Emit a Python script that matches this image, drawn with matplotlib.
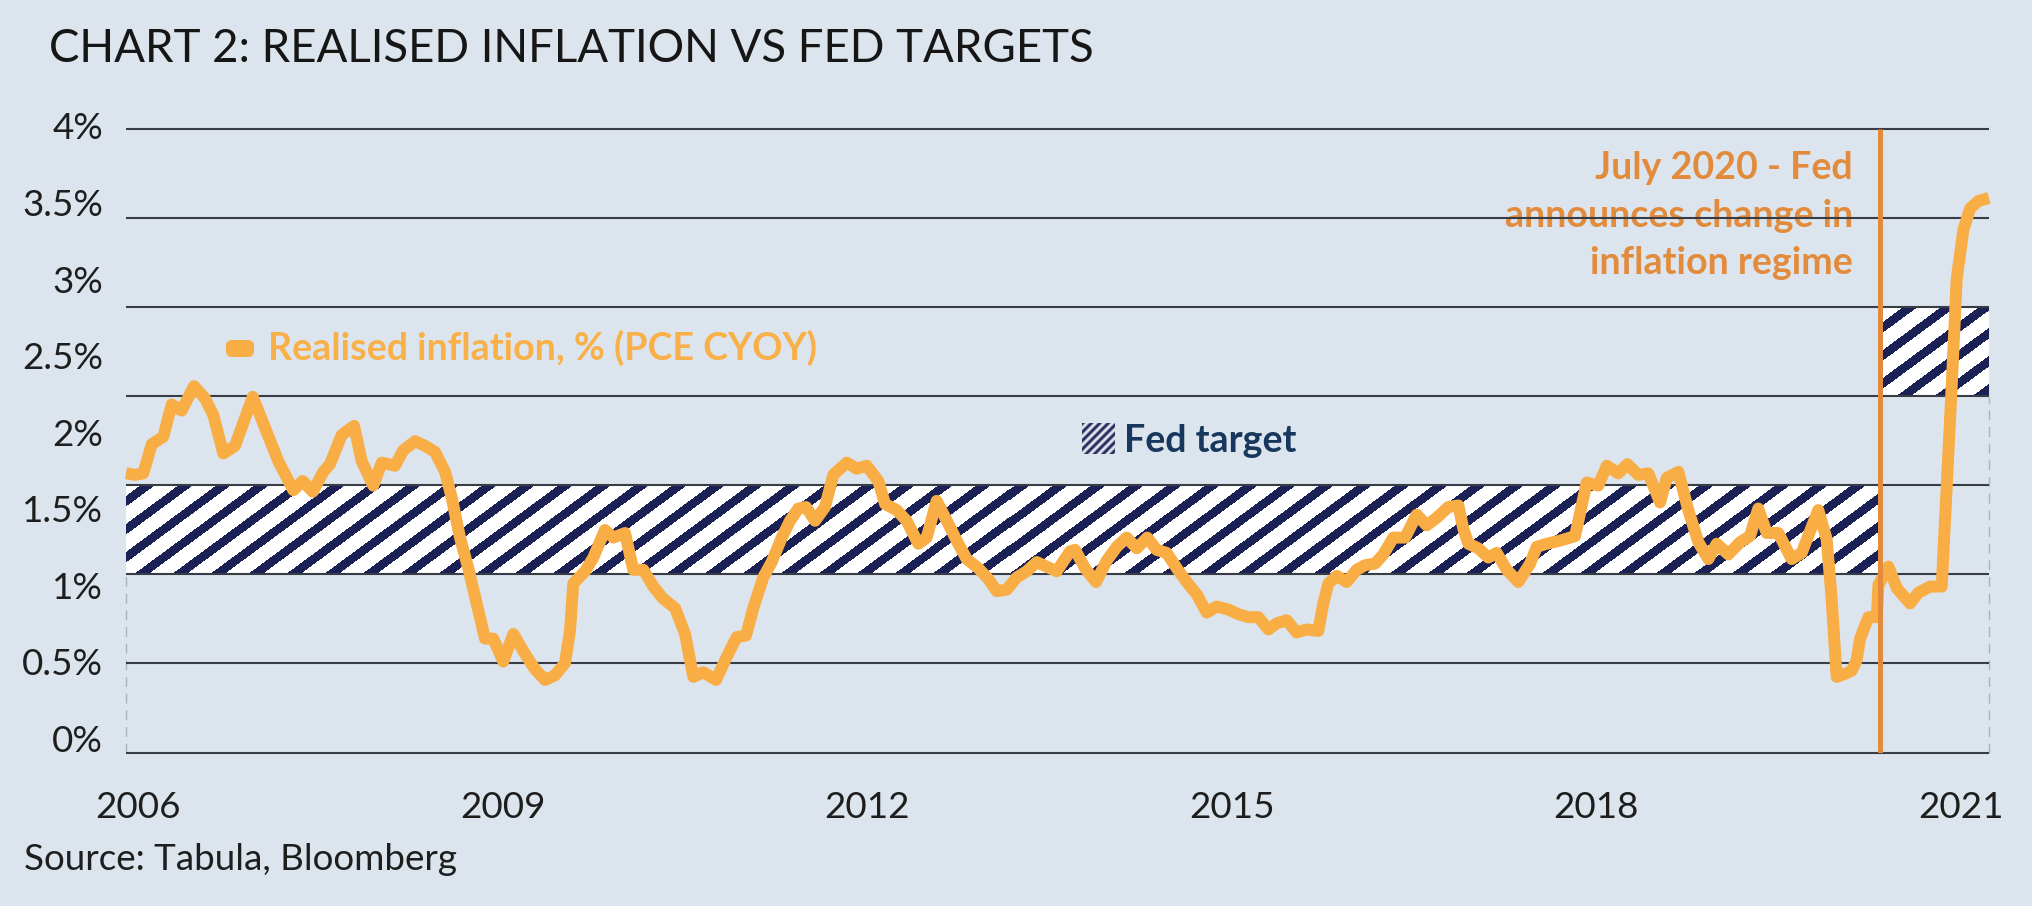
import numpy as np
import matplotlib
matplotlib.use("Agg")
import matplotlib.pyplot as plt
from matplotlib import font_manager
from matplotlib.patches import FancyBboxPatch
from matplotlib.transforms import IdentityTransform

# ---------------- data ----------------
dates = [
    2006.000, 2006.074, 2006.142, 2006.212, 2006.307, 2006.376, 2006.458, 2006.560, 2006.650, 2006.719,
    2006.801, 2006.897, 2007.043, 2007.158, 2007.253, 2007.377, 2007.454, 2007.537, 2007.624, 2007.679,
    2007.775, 2007.877, 2007.940, 2008.035, 2008.105, 2008.214, 2008.282, 2008.379, 2008.461, 2008.543,
    2008.626, 2008.681, 2008.749, 2008.817, 2008.886, 2008.955, 2009.023, 2009.105, 2009.188, 2009.284,
    2009.366, 2009.449, 2009.531, 2009.613, 2009.654, 2009.681, 2009.778, 2009.846, 2009.942, 2010.011,
    2010.107, 2010.175, 2010.258, 2010.340, 2010.422, 2010.519, 2010.601, 2010.669, 2010.751, 2010.856,
    2010.944, 2011.026, 2011.103, 2011.163, 2011.245, 2011.314, 2011.397, 2011.465, 2011.533, 2011.597,
    2011.671, 2011.753, 2011.821, 2011.932, 2012.014, 2012.096, 2012.192, 2012.247, 2012.343, 2012.425,
    2012.521, 2012.590, 2012.672, 2012.768, 2012.850, 2012.919, 2013.015, 2013.097, 2013.166, 2013.249,
    2013.331, 2013.413, 2013.496, 2013.578, 2013.660, 2013.770, 2013.811, 2013.893, 2013.984, 2014.072,
    2014.154, 2014.236, 2014.319, 2014.405, 2014.483, 2014.565, 2014.648, 2014.730, 2014.812, 2014.895,
    2014.977, 2015.072, 2015.155, 2015.237, 2015.319, 2015.402, 2015.471, 2015.553, 2015.635, 2015.718,
    2015.813, 2015.854, 2015.896, 2015.965, 2016.047, 2016.129, 2016.198, 2016.280, 2016.348, 2016.430,
    2016.527, 2016.623, 2016.705, 2016.788, 2016.883, 2016.966, 2017.006, 2017.048, 2017.130, 2017.212,
    2017.281, 2017.364, 2017.459, 2017.556, 2017.611, 2017.693, 2017.802, 2017.926, 2018.022, 2018.117,
    2018.187, 2018.282, 2018.356, 2018.447, 2018.529, 2018.626, 2018.681, 2018.776, 2018.858, 2018.941,
    2019.023, 2019.092, 2019.188, 2019.284, 2019.366, 2019.434, 2019.504, 2019.599, 2019.709, 2019.791,
    2019.928, 2019.997, 2020.038, 2020.079, 2020.148, 2020.203, 2020.244, 2020.272, 2020.340, 2020.410,
    2020.423, 2020.505, 2020.574, 2020.683, 2020.752, 2020.848, 2020.944, 2020.985, 2021.026, 2021.067,
    2021.122, 2021.177, 2021.245, 2021.333,
]
pce_cyoy = [
    1.73, 1.72, 1.73, 1.92, 1.97, 2.18, 2.14, 2.30, 2.22, 2.11,
    1.86, 1.91, 2.23, 2.00, 1.81, 1.62, 1.68, 1.61, 1.74, 1.79,
    1.98, 2.04, 1.81, 1.65, 1.80, 1.78, 1.88, 1.94, 1.91, 1.87,
    1.74, 1.57, 1.31, 1.11, 0.88, 0.65, 0.65, 0.50, 0.68, 0.55,
    0.45, 0.38, 0.41, 0.49, 0.70, 1.01, 1.09, 1.18, 1.36, 1.31,
    1.34, 1.10, 1.10, 0.99, 0.91, 0.85, 0.68, 0.40, 0.43, 0.38,
    0.53, 0.66, 0.67, 0.85, 1.05, 1.15, 1.31, 1.42, 1.50, 1.51,
    1.42, 1.51, 1.72, 1.80, 1.76, 1.78, 1.68, 1.53, 1.49, 1.42,
    1.27, 1.31, 1.55, 1.40, 1.27, 1.17, 1.11, 1.04, 0.96, 0.97,
    1.05, 1.09, 1.15, 1.12, 1.09, 1.22, 1.23, 1.11, 1.02, 1.16,
    1.25, 1.31, 1.24, 1.31, 1.23, 1.21, 1.11, 1.02, 0.94, 0.82,
    0.86, 0.84, 0.81, 0.79, 0.79, 0.71, 0.75, 0.77, 0.69, 0.71,
    0.70, 0.88, 1.01, 1.06, 1.02, 1.10, 1.13, 1.14, 1.20, 1.31,
    1.31, 1.46, 1.39, 1.44, 1.51, 1.52, 1.37, 1.27, 1.24, 1.18,
    1.21, 1.10, 1.02, 1.14, 1.25, 1.27, 1.29, 1.32, 1.67, 1.65,
    1.78, 1.73, 1.79, 1.72, 1.73, 1.54, 1.70, 1.74, 1.49, 1.28,
    1.17, 1.27, 1.20, 1.28, 1.32, 1.50, 1.34, 1.34, 1.17, 1.21,
    1.49, 1.30, 0.91, 0.40, 0.42, 0.44, 0.51, 0.65, 0.79, 0.79,
    1.00, 1.12, 0.98, 0.88, 0.95, 0.99, 0.99, 1.65, 2.30, 3.00,
    3.32, 3.46, 3.51, 3.53,
]

# Fed target bands (hatched) before / after the regime change
band_start = [2006.0, 2020.44]
band_end = [2020.44, 2021.333]
band_low = [1.07, 2.23]
band_high = [1.65, 2.82]

event_date = 2020.44
event_text = ["July 2020 - Fed", "announces change in", "inflation regime"]

year_ticks = [2006, 2009, 2012, 2015, 2018, 2021]
pct_ticks = [0, 0.5, 1, 1.5, 2, 2.5, 3, 3.5, 4]
pct_labels = ["0%", "0.5%", "1%", "1.5%", "2%", "2.5%", "3%", "3.5%", "4%"]

title = "CHART 2: REALISED INFLATION VS FED TARGETS"
source = "Source: Tabula, Bloomberg"
series_label = "Realised inflation, % (PCE CYOY)"
band_label = "Fed target"

# ---------------- style ----------------
W, H, DPI = 2033, 906, 100
BG = "#dce5ed"
GRID = "#383d45"
LINE = "#f9ad45"
EVENT = "#e38b3d"
NAVY = np.array([27, 33, 85]) / 255.0
NAVY_TXT = "#18375c"
TEXT = "#1e1e1e"

ttf = font_manager.fontManager.ttflist
names = {f.name for f in ttf}
FONT = "Lato" if "Lato" in names else ("Roboto" if "Roboto" in names else "DejaVu Sans")
plt.rcParams["font.family"] = [FONT, "DejaVu Sans"]

fig = plt.figure(figsize=(W / DPI, H / DPI), dpi=DPI, facecolor=BG)


def fx(px):
    return px / W


def fy(py):
    return 1 - py / H


ax = fig.add_axes([fx(126), fy(752.5), (1989 - 126) / W, (752.5 - 126) / H])
ax.set_facecolor(BG)
for s in ax.spines.values():
    s.set_visible(False)
XLIM = (dates[0], dates[-1])
YLIM = (-0.0943, 3.979)
ax.set_xlim(*XLIM)
ax.set_ylim(*YLIM)

# horizontal rules (8 evenly spaced rules spanning the plot box)
rules = np.linspace(YLIM[0], YLIM[1], 8)
ax.hlines(rules, XLIM[0], XLIM[1], color=GRID, lw=1.5, zorder=2, clip_on=False)


def stripes(x0, y0, w, h, per_x=38.0, per_y=28.0, frac=0.38):
    cols = x0 + np.arange(w) + 0.5
    rows = y0 + np.arange(h) + 0.5
    X, Y = np.meshgrid(cols, rows)
    ph = ((X * per_y / per_x + Y) % per_y) / per_y
    img = np.ones((h, w, 3))
    img[ph < frac] = NAVY
    return img


for xs, xe, lo, hi in zip(band_start, band_end, band_low, band_high):
    (dx0, dy0), (dx1, dy1) = ax.transData.transform([(xs, lo), (xe, hi)])
    w = max(int(round(dx1 - dx0)), 1)
    h = max(int(round(dy1 - dy0)), 1)
    ax.imshow(stripes(dx0, H - dy1, w, h), extent=(xs, xe, lo, hi), aspect="auto",
              interpolation="nearest", origin="upper", zorder=1)
ax.set_xlim(*XLIM)
ax.set_ylim(*YLIM)

# faint dashed box sides
ax.vlines(XLIM[0], YLIM[0], band_low[0], color="#aab1b9", lw=1.0,
          linestyles=(0, (7, 5)), zorder=1.8, clip_on=False)
ax.vlines(XLIM[1], YLIM[0], band_low[1], color="#aab1b9", lw=1.0,
          linestyles=(0, (7, 5)), zorder=1.8, clip_on=False)

# realised inflation
ax.plot(dates, pce_cyoy, color=LINE, lw=8.6, solid_joinstyle="round",
        solid_capstyle="butt", zorder=3, clip_on=False)

# regime-change marker
ax.vlines(event_date, YLIM[0], YLIM[1], color=EVENT, lw=3.6, zorder=4)

# ticks
ax.set_yticks(pct_ticks, pct_labels)
ax.set_xticks([y + 0.1 for y in year_ticks], [str(y) for y in year_ticks])
ax.tick_params(length=0, labelsize=26.5, colors=TEXT)
ax.tick_params(axis="y", pad=16.5)
ax.tick_params(axis="x", pad=27.5)
for lab in ax.get_xticklabels() + ax.get_yticklabels():
    lab.set_fontweight("normal")

# titles / notes
fig.text(fx(49), fy(62), title, fontsize=32.9, fontweight="normal", color="#161616", va="baseline")
fig.text(fx(24.5), fy(870), source, fontsize=26.5, fontweight="normal", color=TEXT, va="baseline")

# legend: realised inflation
fig.add_artist(FancyBboxPatch((226, H - 357), 28, 17, boxstyle="round,pad=0,rounding_size=6",
                              transform=IdentityTransform(), fc=LINE, ec="none"))
fig.text(fx(268), fy(360), series_label, fontsize=27.1, fontweight="bold", color="#f9b048", va="baseline")

# legend: fed target
iax = fig.add_axes([fx(1082), fy(454), 33 / W, 31 / H])
cols, rows = np.meshgrid(np.arange(33), np.arange(31))
ph = (cols + rows) / 8.5
t = 0.5 + 0.5 * np.cos(2 * np.pi * ph)
icon = (1 - t)[..., None] * np.array([0.93, 0.94, 0.96]) + t[..., None] * NAVY
iax.imshow(icon, aspect="auto", interpolation="bilinear")
iax.axis("off")
fig.text(fx(1124), fy(452), band_label, fontsize=27.1, fontweight="bold", color=NAVY_TXT, va="baseline")

# annotation (under the rules, as in the original)
for line, base in zip(event_text, [179, 227, 274]):
    ax.text(fx(1853), fy(base), line, transform=fig.transFigure, ha="right", va="baseline",
            fontsize=27.1, fontweight="bold", color=EVENT, zorder=1.5)

fig.savefig("out.png", dpi=DPI, facecolor=BG)
